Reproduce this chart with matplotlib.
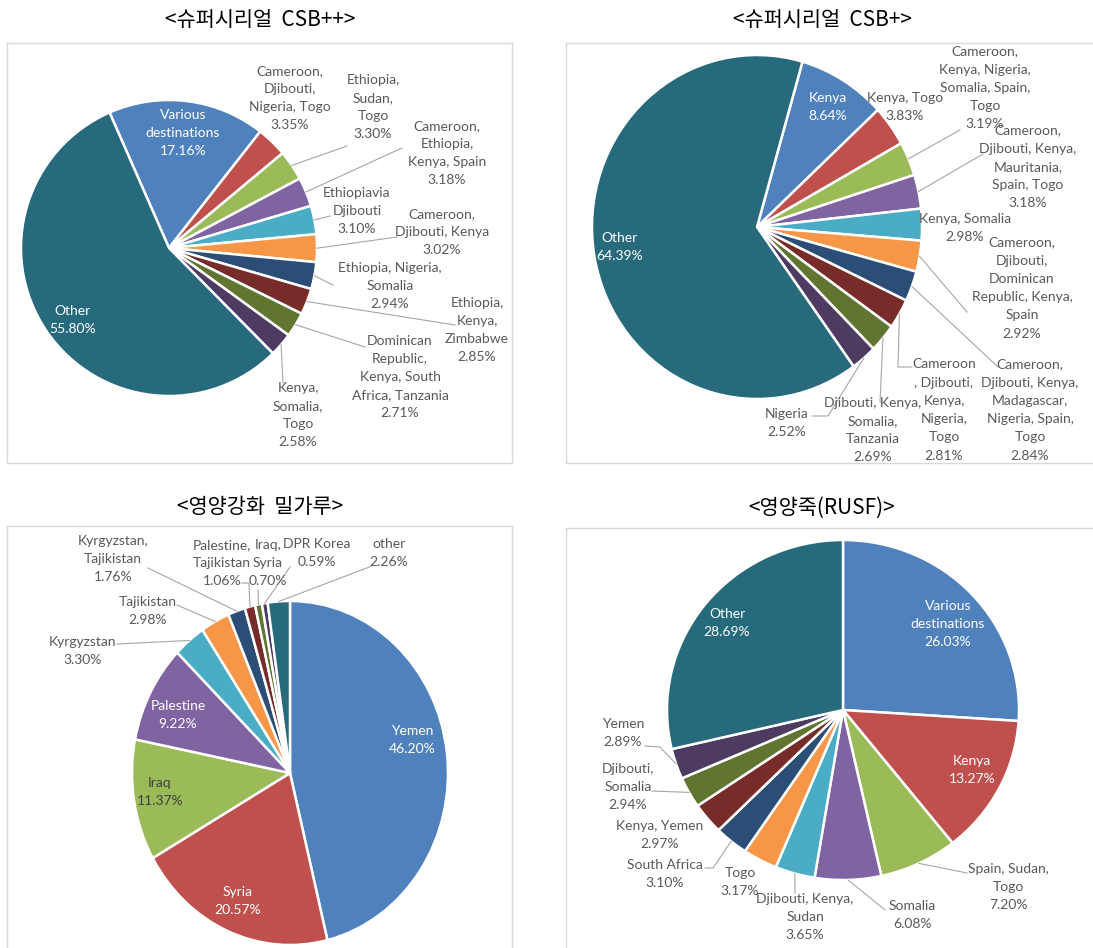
import numpy as np
import matplotlib
matplotlib.use('Agg')
import matplotlib.pyplot as plt

# Excel 2007 palette and its darker shades
PALETTE = ['#4F81BD', '#C0504D', '#9BBB59', '#8064A2', '#4BACC6', '#F79646',
           '#2C4D75', '#772C2A', '#5F7530', '#4D3B62', '#276A7C']

# ---- data ----
csb2_names = ['Various\ndestinations', 'Cameroon,\nDjibouti,\nNigeria, Togo', 'Ethiopia,\nSudan,\nTogo',
              'Cameroon,\nEthiopia,\nKenya, Spain', 'Ethiopiavia\nDjibouti', 'Cameroon,\nDjibouti, Kenya',
              'Ethiopia, Nigeria,\nSomalia', 'Ethiopia,\nKenya,\nZimbabwe',
              'Dominican\nRepublic,\nKenya, South\nAfrica, Tanzania', 'Kenya,\nSomalia,\nTogo', 'Other']
csb2_values = [17.16, 3.35, 3.30, 3.18, 3.10, 3.02, 2.94, 2.85, 2.71, 2.58, 55.80]

csb1_names = ['Kenya', 'Kenya, Togo', 'Cameroon,\nKenya, Nigeria,\nSomalia, Spain,\nTogo',
              'Cameroon,\nDjibouti, Kenya,\nMauritania,\nSpain, Togo', 'Kenya, Somalia',
              'Cameroon,\nDjibouti,\nDominican\nRepublic, Kenya,\nSpain',
              'Cameroon,\nDjibouti, Kenya,\nMadagascar,\nNigeria, Spain,\nTogo',
              'Cameroon\n, Djibouti,\nKenya,\nNigeria,\nTogo',
              'Djibouti, Kenya,\nSomalia,\nTanzania', 'Nigeria', 'Other']
csb1_values = [8.64, 3.83, 3.19, 3.18, 2.98, 2.92, 2.84, 2.81, 2.69, 2.52, 64.39]

flour_names = ['Yemen', 'Syria', 'Iraq', 'Palestine', 'Kyrgyzstan', 'Tajikistan',
               'Kyrgyzstan,\nTajikistan', 'Palestine,\nTajikistan', 'Iraq,\nSyria', 'DPR Korea', 'other']
flour_values = [46.20, 20.57, 11.37, 9.22, 3.30, 2.98, 1.76, 1.06, 0.70, 0.59, 2.26]

rusf_names = ['Various\ndestinations', 'Kenya', 'Spain, Sudan,\nTogo', 'Somalia', 'Djibouti, Kenya,\nSudan',
              'Togo', 'South Africa', 'Kenya, Yemen', 'Djibouti,\nSomalia', 'Yemen', 'Other']
rusf_values = [26.03, 13.27, 7.20, 6.08, 3.65, 3.17, 3.10, 2.97, 2.94, 2.89, 28.69]

titles = ['<슈퍼시리얼  CSB++>', '<슈퍼시리얼  CSB+>', '<영양강화  밀가루>', '<영양죽(RUSF)>']

# ---- layout (pixels, y down) ----
W, H = 1093, 948
TXT = '#595959'
WH = 'white'

panels = [
    dict(box=(7, 43, 512, 463), center=(169, 248), radii=(148, 148), start=113.7, title_xy=(260, 20),
         names=csb2_names, values=csb2_values,
         label_xy=[(183, 133), (290, 98), (373, 107), (447, 153), (357, 211), (442, 232),
                   (390, 286), (477, 330), (400, 377), (298, 415), (73, 320)],
         leaders=[None, None, [(347, 146)], [(402, 148)], [(330, 216)], [(397, 237)],
                  [(333, 285)], [(455, 325)], [(365, 347)], [(283, 383)], None],
         colors=[WH] + [TXT] * 9 + [WH]),
    dict(box=(566, 43, 1100, 463), center=(757, 227), radii=(165, 172), start=74, title_xy=(822, 20),
         names=csb1_names, values=csb1_values,
         label_xy=[(828, 107), (905, 107), (985, 88), (1028, 167), (965, 228), (1022, 288),
                   (1030, 410), (944, 410), (873, 430), (787, 423), (620, 247)],
         leaders=[None, None, [(960, 130)], [(983, 154)], None, [(967, 312)],
                  [(998, 367)], [(898, 367), (912, 367)], [(880, 402)], [(828, 416), (812, 416)], None],
         colors=[WH] + [TXT] * 9 + [WH]),
    dict(box=(7, 526, 512, 960), center=(290, 773), radii=(158, 172), start=90, title_xy=(260, 507),
         names=flour_names, values=flour_values,
         label_xy=[(412, 740), (238, 901), (160, 792), (178, 715), (83, 651), (148, 611),
                   (113, 559), (222, 563), (268, 563), (317, 553), (389, 553)],
         leaders=[None, None, None, None, [(117, 644)], [(177, 605)], [(148, 568)],
                  [(249, 583), (241, 583)], [(258, 590)], [(290, 567)], [(372, 566)]],
         colors=[WH, WH, '#404040', WH] + [TXT] * 7),
    dict(box=(566, 528, 1100, 960), center=(843, 710), radii=(176, 170), start=90, title_xy=(822, 508),
         names=rusf_names, values=rusf_values,
         label_xy=[(948, 624), (972, 770), (1008, 887), (912, 915), (805, 917), (740, 882),
                   (665, 874), (660, 835), (628, 787), (623, 733), (727, 623)],
         leaders=[None, None, [(967, 873)], [(885, 910)], [(795, 893)], None,
                  [(713, 868), (705, 868)], None, [(652, 791)], [(660, 747), (645, 746)], None],
         colors=[WH, WH] + [TXT] * 8 + [WH]),
]

fig = plt.figure(figsize=(W / 100, H / 100), dpi=100)
fig.patch.set_facecolor('white')

for i, p in enumerate(panels):
    x0, y0, x1, y1 = p['box']
    cx, cy = p['center']
    rx, ry = p['radii']
    ax = fig.add_axes([x0 / W, 1 - y1 / H, (x1 - x0) / W, (y1 - y0) / H])
    wedges, _ = ax.pie(p['values'], colors=PALETTE, startangle=p['start'], counterclock=False,
                       wedgeprops=dict(edgecolor='white', linewidth=1.8))
    ax.set_aspect('auto')
    ax.set_xlim((x0 - cx) / rx, (x1 - cx) / rx)
    ax.set_ylim((cy - y1) / ry, (cy - y0) / ry)
    ax.set_frame_on(True)
    for s in ax.spines.values():
        s.set_color('#D9D9D9')
        s.set_linewidth(1.0)
    ax.set_xticks([])
    ax.set_yticks([])

    def to_data(pt):
        return ((pt[0] - cx) / rx, (cy - pt[1]) / ry)

    for j, w in enumerate(wedges):
        lx, ly = to_data(p['label_xy'][j])
        ax.text(lx, ly, f"{p['names'][j]}\n{p['values'][j]:.2f}%", ha='center', va='center',
                fontsize=10, family='Lato', color=p['colors'][j], linespacing=1.62)
        if p['leaders'][j] is not None:
            mid = np.deg2rad((w.theta1 + w.theta2) / 2)
            pts = [(np.cos(mid), np.sin(mid))] + [to_data(q) for q in p['leaders'][j]]
            xs, ys = zip(*pts)
            ax.plot(xs, ys, color='#A6A6A6', lw=0.8)

    fig.text(p['title_xy'][0] / W, 1 - p['title_xy'][1] / H, titles[i], ha='center', va='center',
             fontsize=15, family=['Noto Sans CJK KR', 'DejaVu Sans'])

fig.savefig('out.png', dpi=100)
